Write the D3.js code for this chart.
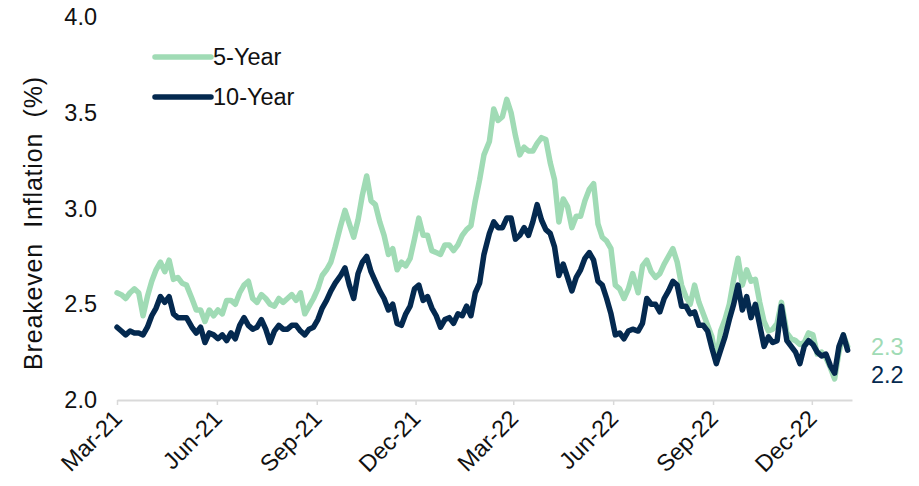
<!DOCTYPE html>
<html>
<head>
<meta charset="utf-8">
<script src="https://cdn.jsdelivr.net/npm/d3@7"></script>
<style>
  body { margin: 0; background: #fff; }
  #vis text { font-family: "Liberation Sans", Arial, sans-serif; fill: #111; }
</style>
</head>
<body>
<div id="vis"></div>
<script>
var dates = [
  '2021-03-01','2021-03-05','2021-03-09','2021-03-13','2021-03-17','2021-03-21','2021-03-25','2021-03-29',
  '2021-04-02','2021-04-06','2021-04-10','2021-04-14','2021-04-18','2021-04-22','2021-04-26','2021-04-30',
  '2021-05-04','2021-05-09','2021-05-13','2021-05-17','2021-05-21','2021-05-25','2021-05-29',
  '2021-06-02','2021-06-06','2021-06-10','2021-06-14','2021-06-18','2021-06-22','2021-06-26','2021-06-30',
  '2021-07-04','2021-07-08','2021-07-12','2021-07-16','2021-07-20','2021-07-24','2021-07-28',
  '2021-08-01','2021-08-05','2021-08-09','2021-08-13','2021-08-17','2021-08-21','2021-08-25','2021-08-29',
  '2021-09-02','2021-09-06','2021-09-10','2021-09-14','2021-09-18','2021-09-23','2021-09-27',
  '2021-10-01','2021-10-05','2021-10-09','2021-10-13','2021-10-17','2021-10-21','2021-10-25','2021-10-29',
  '2021-11-02','2021-11-06','2021-11-10','2021-11-14','2021-11-18','2021-11-22','2021-11-26','2021-11-30',
  '2021-12-04','2021-12-08','2021-12-12','2021-12-16','2021-12-20','2021-12-24','2021-12-28',
  '2022-01-01','2022-01-05','2022-01-09','2022-01-13','2022-01-17','2022-01-21','2022-01-25','2022-01-29',
  '2022-02-02','2022-02-07','2022-02-11','2022-02-15','2022-02-19','2022-02-23','2022-02-27',
  '2022-03-03','2022-03-07','2022-03-11','2022-03-15','2022-03-19','2022-03-23','2022-03-27','2022-03-31',
  '2022-04-04','2022-04-08','2022-04-12','2022-04-16','2022-04-20','2022-04-24','2022-04-28',
  '2022-05-02','2022-05-06','2022-05-10','2022-05-14','2022-05-18','2022-05-22','2022-05-26','2022-05-30',
  '2022-06-03','2022-06-07','2022-06-11','2022-06-15','2022-06-19','2022-06-24','2022-06-28',
  '2022-07-02','2022-07-06','2022-07-10','2022-07-14','2022-07-18','2022-07-22','2022-07-26','2022-07-30',
  '2022-08-03','2022-08-07','2022-08-11','2022-08-15','2022-08-19','2022-08-23','2022-08-27','2022-08-31',
  '2022-09-04','2022-09-08','2022-09-12','2022-09-16','2022-09-20','2022-09-24','2022-09-28',
  '2022-10-02','2022-10-06','2022-10-10','2022-10-14','2022-10-18','2022-10-22','2022-10-26','2022-10-30',
  '2022-11-03','2022-11-08','2022-11-12','2022-11-16','2022-11-20','2022-11-24','2022-11-28',
  '2022-12-02','2022-12-06','2022-12-10','2022-12-14','2022-12-18','2022-12-22','2022-12-26','2022-12-30',
  '2023-01-03'
];

var fiveYear = [
  2.56,2.55,2.53,2.56,2.58,2.56,2.44,2.54,2.62,2.68,2.72,2.67,2.73,2.63,2.64,2.61,2.60,
  2.53,2.47,2.47,2.41,2.47,2.44,2.47,2.45,2.52,2.52,2.50,2.56,2.60,2.62,2.53,2.51,2.55,
  2.53,2.50,2.49,2.53,2.51,2.53,2.55,2.52,2.56,2.45,2.49,2.53,2.58,2.65,2.68,2.72,2.80,
  2.91,2.99,2.92,2.85,2.94,3.07,3.17,3.04,3.02,2.93,2.86,2.76,2.79,2.68,2.72,2.70,2.74,
  2.84,2.95,2.86,2.86,2.78,2.77,2.76,2.81,2.81,2.78,2.81,2.86,2.89,2.91,3.04,3.15,3.28,
  3.35,3.52,3.46,3.48,3.57,3.50,3.38,3.28,3.32,3.30,3.30,3.34,3.37,3.36,3.24,3.15,2.93,
  3.05,3.01,2.90,2.96,2.96,3.04,3.10,3.13,2.92,2.85,2.83,2.79,2.60,2.58,2.53,2.58,2.66,
  2.56,2.70,2.73,2.67,2.64,2.66,2.71,2.75,2.79,2.72,2.60,2.54,2.50,2.60,2.51,2.45,2.39,
  2.33,2.20,2.36,2.42,2.50,2.63,2.74,2.60,2.68,2.62,2.63,2.51,2.41,2.36,2.37,2.40,2.51,
  2.35,2.32,2.31,2.29,2.30,2.35,2.34,2.24,2.25,2.22,2.17,2.11,2.25,2.34,2.28
];

var tenYear = [
  2.38,2.36,2.34,2.36,2.35,2.35,2.34,2.38,2.44,2.48,2.54,2.51,2.54,2.45,2.43,2.43,2.43,
  2.38,2.35,2.38,2.30,2.35,2.34,2.32,2.34,2.31,2.35,2.32,2.39,2.43,2.39,2.37,2.38,2.42,
  2.37,2.30,2.36,2.39,2.37,2.37,2.39,2.39,2.36,2.34,2.37,2.38,2.42,2.48,2.52,2.57,2.61,
  2.65,2.69,2.60,2.53,2.66,2.72,2.75,2.67,2.62,2.57,2.53,2.47,2.50,2.40,2.39,2.45,2.49,
  2.58,2.60,2.52,2.54,2.48,2.44,2.38,2.42,2.43,2.40,2.45,2.44,2.49,2.44,2.56,2.61,2.76,
  2.87,2.93,2.90,2.90,2.95,2.95,2.84,2.86,2.90,2.86,2.93,3.02,2.94,2.89,2.87,2.80,2.65,
  2.71,2.64,2.57,2.64,2.68,2.74,2.77,2.73,2.62,2.60,2.53,2.45,2.34,2.35,2.32,2.36,2.37,
  2.36,2.40,2.53,2.50,2.50,2.46,2.53,2.57,2.62,2.60,2.49,2.49,2.45,2.46,2.39,2.39,2.36,
  2.27,2.19,2.26,2.33,2.42,2.50,2.60,2.47,2.54,2.43,2.50,2.39,2.28,2.33,2.30,2.31,2.49,
  2.31,2.28,2.25,2.19,2.28,2.31,2.29,2.25,2.23,2.24,2.18,2.14,2.28,2.34,2.26
];

var xTicks = ['2021-03-01','2021-06-01','2021-09-01','2021-12-01',
              '2022-03-01','2022-06-01','2022-09-01','2022-12-01'];
var yTicks = [2.0, 2.5, 3.0, 3.5, 4.0];
var seriesNames = ['5-Year', '10-Year'];
var lastLabels = ['2.3', '2.2'];
var colors = ['#a0dbb5', '#04294f'];

var width = 919,
    height = 486,
    fontSize = 23.5;

var parse = d3.timeParse('%Y-%m-%d');

var svg = d3.select('#vis')
            .append('svg')
            .attr('width', width)
            .attr('height', height);

var xScale = d3.scaleTime()
               .domain([parse('2021-03-01'), parse('2023-01-07')])
               .range([117, 852]);

var yScale = d3.scaleLinear()
               .domain([2, 4])
               .range([400, 17]);

// x axis
var xAxis = d3.axisBottom(xScale)
              .tickValues(xTicks.map(parse))
              .tickFormat(d3.timeFormat('%b-%y'))
              .tickSize(5)
              .tickSizeOuter(0);

var xAxisG = svg.append('g')
                .attr('transform', 'translate(0, 400)')
                .call(xAxis);
xAxisG.select('.domain').attr('stroke', '#d9d9d9').attr('stroke-width', 2);
xAxisG.selectAll('.tick line').attr('stroke', '#d9d9d9').attr('stroke-width', 1.5);
xAxisG.selectAll('.tick text')
      .attr('font-size', fontSize)
      .attr('text-anchor', 'end')
      .attr('dy', null)
      .attr('y', 0)
      .attr('transform', 'translate(6, 20) rotate(-45)');

// y axis
var yAxis = d3.axisLeft(yScale)
              .tickValues(yTicks)
              .tickFormat(d3.format('.1f'))
              .tickSize(0)
              .tickPadding(20);

var yAxisG = svg.append('g')
                .attr('transform', 'translate(117, 0)')
                .call(yAxis);
yAxisG.select('.domain').remove();
yAxisG.selectAll('.tick text').attr('font-size', fontSize);

svg.append('text')
   .attr('transform', 'translate(42, 223) rotate(-90)')
   .attr('text-anchor', 'middle')
   .attr('font-size', 25)
   .style('white-space', 'pre')
   .style('letter-spacing', '0.8px')
   .text('Breakeven  Inflation  (%)');

// lines
var line = d3.line()
             .x((d, i) => xScale(parse(dates[i])))
             .y((d) => yScale(d));

var allSeries = [fiveYear, tenYear];

svg.selectAll('.series')
   .data(allSeries)
   .enter()
   .append('path')
   .attr('class', 'series')
   .attr('d', line)
   .attr('fill', 'none')
   .attr('stroke', (d, i) => colors[i])
   .attr('stroke-width', 5.5)
   .attr('stroke-linejoin', 'round')
   .attr('stroke-linecap', 'round');

// end labels
svg.selectAll('.endLabel')
   .data(lastLabels)
   .enter()
   .append('text')
   .attr('class', 'endLabel')
   .attr('x', 871)
   .attr('y', (d, i) => 347 + i * 28)
   .attr('dy', '0.35em')
   .attr('font-size', fontSize)
   .style('fill', (d, i) => colors[i])
   .text((d) => d);

// legend
var legend = svg.selectAll('.legend')
                .data(seriesNames)
                .enter()
                .append('g')
                .attr('class', 'legend')
                .attr('transform', (d, i) => `translate(155, ${57 + i * 40})`);

legend.append('line')
      .attr('x1', 0)
      .attr('x2', 56)
      .attr('stroke', (d, i) => colors[i])
      .attr('stroke-width', 5.5)
      .attr('stroke-linecap', 'round');

legend.append('text')
      .attr('x', 58)
      .attr('dy', '0.35em')
      .attr('font-size', fontSize)
      .text((d) => d);
</script>
</body>
</html>
